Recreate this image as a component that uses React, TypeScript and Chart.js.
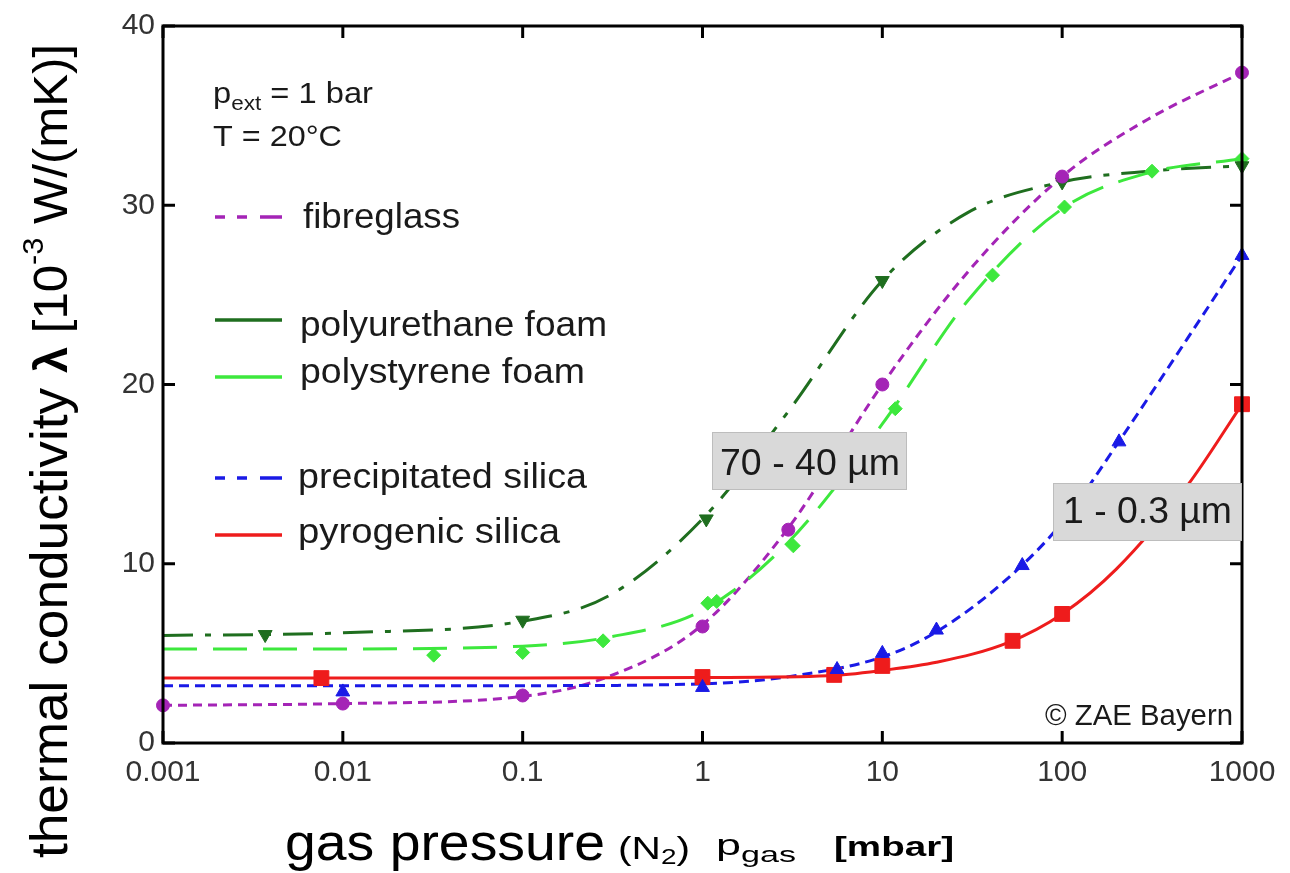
import React, { useEffect, useRef } from "react";
import { Chart, registerables } from "chart.js";

Chart.register(...registerables);

const FONT = "'Liberation Sans', Arial, sans-serif";

const X_TICKS = [0.001, 0.01, 0.1, 1, 10, 100, 1000];
const X_TICK_LABELS = ["0.001", "0.01", "0.1", "1", "10", "100", "1000"];
const Y_TICKS = [0, 10, 20, 30, 40];
const Y_TICK_LABELS = ["0", "10", "20", "30", "40"];

// fibreglass: measured points and fitted curve
const FIBRE_P = [0.001, 0.01, 0.1, 1, 3, 10, 100, 1000];
const FIBRE_L = [2.1, 2.2, 2.65, 6.5, 11.9, 20.0, 31.6, 37.4];
const FIBRE_CURVE_P = [0.001, 0.01, 0.1, 0.3, 1, 3, 10, 30, 100, 300, 1000];
const FIBRE_CURVE_L = [2.1, 2.2, 2.6, 3.7, 6.6, 12.0, 20.0, 26.3, 31.6, 34.8, 37.4];

// polyurethane foam
const PU_P = [0.0037, 0.1, 1.05, 10, 100, 1000];
const PU_L = [6.05, 6.85, 12.5, 25.8, 31.3, 32.2];
const PU_CURVE_P = [0.001, 0.01, 0.1, 0.3, 1, 3, 10, 30, 100, 300, 1000];
const PU_CURVE_L = [6.0, 6.15, 6.8, 8.2, 12.5, 18.5, 25.8, 29.6, 31.3, 31.9, 32.2];

// polystyrene foam
const PS_P = [0.032, 0.1, 0.28, 1.07, 1.2, 3.2, 11.8, 41, 103, 316, 1000];
const PS_L = [4.9, 5.05, 5.7, 7.8, 7.9, 11.0, 18.65, 26.1, 29.9, 31.9, 32.6];
const PS_CURVE_P = [0.001, 0.01, 0.1, 0.3, 1, 3, 10, 30, 100, 300, 1000];
const PS_CURVE_L = [5.25, 5.25, 5.4, 5.9, 7.4, 11.2, 17.8, 24.7, 29.8, 31.8, 32.6];

// precipitated silica
const PREC_P = [0.01, 1, 5.6, 10, 20, 60, 207, 1000];
const PREC_L = [2.85, 3.1, 4.1, 5.0, 6.3, 9.9, 16.8, 27.2];
const PREC_CURVE_P = [0.001, 0.01, 0.1, 1, 3, 10, 20, 50, 100, 200, 500, 1000];
const PREC_CURVE_L = [3.2, 3.2, 3.2, 3.3, 3.7, 4.8, 6.2, 9.2, 12.3, 16.6, 22.6, 27.2];

// pyrogenic silica
const PYRO_P = [0.0076, 1, 5.4, 10, 53, 100, 1000];
const PYRO_L = [3.62, 3.68, 3.8, 4.3, 5.7, 7.2, 18.9];
const PYRO_CURVE_P = [0.001, 0.1, 1, 5, 10, 20, 50, 100, 200, 500, 1000];
const PYRO_CURVE_L = [3.62, 3.62, 3.65, 3.75, 4.05, 4.5, 5.6, 7.2, 9.7, 14.4, 18.9];

const C_FIBRE = "#a424b6";
const C_PU = "#1f6e1f";
const C_PS = "#3de83d";
const C_PREC = "#1a1ae6";
const C_PYRO = "#ee1c1c";

const LEGEND = [
  { label: "fibreglass", color: C_FIBRE, dash: [10, 12, 10, 13, 22, 0], y: 217, tx: 303, tw: 157, ty: 228 },
  { label: "polyurethane foam", color: C_PU, dash: [], y: 320, tx: 300, tw: 307, ty: 336 },
  { label: "polystyrene foam", color: C_PS, dash: [], y: 377, tx: 300, tw: 285, ty: 383 },
  { label: "precipitated silica", color: C_PREC, dash: [10, 12, 10, 13, 22, 0], y: 478, tx: 298, tw: 289, ty: 488 },
  { label: "pyrogenic silica", color: C_PYRO, dash: [], y: 535, tx: 298, tw: 262, ty: 543 },
];

const pts = (xs: number[], ys: number[]) => xs.map((x, i) => ({ x, y: ys[i] }));

type Run = { text: string; font: string; dy?: number };

function drawRuns(ctx: CanvasRenderingContext2D, runs: Run[], x: number, y: number, width?: number) {
  let natural = 0;
  const ws = runs.map((r) => {
    ctx.font = r.font;
    const w = ctx.measureText(r.text).width;
    natural += w;
    return w;
  });
  const sx = width ? width / natural : 1;
  ctx.save();
  ctx.translate(x, y);
  ctx.scale(sx, 1);
  ctx.textAlign = "left";
  ctx.textBaseline = "alphabetic";
  let cx = 0;
  runs.forEach((r, i) => {
    ctx.font = r.font;
    ctx.fillText(r.text, cx, r.dy || 0);
    cx += ws[i];
  });
  ctx.restore();
}

const overlay = {
  id: "overlay",
  afterDatasetsDraw(chart: any) {
    const ctx: CanvasRenderingContext2D = chart.ctx;
    const a = chart.chartArea;
    const xs = chart.scales.x;
    const ys = chart.scales.y;
    ctx.save();
    ctx.setLineDash([]);
    ctx.strokeStyle = "#000";
    ctx.lineWidth = 3;
    const line = (x1: number, y1: number, x2: number, y2: number) => {
      ctx.beginPath();
      ctx.moveTo(x1, y1);
      ctx.lineTo(x2, y2);
      ctx.stroke();
    };
    ctx.strokeRect(a.left, a.top, a.right - a.left, a.bottom - a.top);
    X_TICKS.forEach((v) => {
      const px = xs.getPixelForValue(v);
      line(px, a.bottom, px, a.bottom - 12);
      line(px, a.top, px, a.top + 12);
    });
    Y_TICKS.forEach((v) => {
      const py = ys.getPixelForValue(v);
      line(a.left, py, a.left + 12, py);
      line(a.right, py, a.right - 12, py);
    });

    // conditions
    ctx.fillStyle = "#1a1a1a";
    drawRuns(ctx, [
      { text: "p", font: `29px ${FONT}` },
      { text: "ext", font: `20px ${FONT}`, dy: 7 },
      { text: " = 1 bar", font: `29px ${FONT}` },
    ], 213, 103, 160);
    drawRuns(ctx, [{ text: "T = 20°C", font: `29px ${FONT}` }], 213, 146, 129);

    // legend
    LEGEND.forEach((e) => {
      ctx.strokeStyle = e.color;
      ctx.lineWidth = 3.5;
      ctx.setLineDash(e.dash);
      line(215, e.y, 282, e.y);
      ctx.setLineDash([]);
      ctx.fillStyle = "#1a1a1a";
      drawRuns(ctx, [{ text: e.label, font: `35px ${FONT}` }], e.tx, e.ty, e.tw);
    });

    // annotation boxes
    const box = (x: number, y: number, w: number, h: number, text: string, tx: number, ty: number, tw: number) => {
      ctx.fillStyle = "#d9d9d9";
      ctx.fillRect(x, y, w, h);
      ctx.strokeStyle = "#bdbdbd";
      ctx.lineWidth = 1;
      ctx.strokeRect(x + 0.5, y + 0.5, w - 1, h - 1);
      ctx.fillStyle = "#1a1a1a";
      drawRuns(ctx, [{ text, font: `37px ${FONT}` }], tx, ty, tw);
    };
    box(712, 432, 195, 58, "70 - 40 µm", 720, 475, 180);
    box(1053, 483, 189, 58, "1 - 0.3 µm", 1063, 523, 169);

    // copyright
    ctx.fillStyle = "#1a1a1a";
    drawRuns(ctx, [{ text: "© ZAE Bayern", font: `29px ${FONT}` }], 1045, 725, 188);

    // x axis title
    ctx.fillStyle = "#000";
    drawRuns(ctx, [{ text: "gas pressure", font: `52px ${FONT}` }], 285, 860, 320);
    drawRuns(ctx, [
      { text: "(N", font: `32px ${FONT}` },
      { text: "2", font: `22px ${FONT}`, dy: 5 },
      { text: ")", font: `32px ${FONT}` },
    ], 618, 859, 72);
    drawRuns(ctx, [
      { text: "p", font: `29px ${FONT}` },
      { text: "gas", font: `22px ${FONT}`, dy: 7 },
    ], 716, 855, 80);
    drawRuns(ctx, [{ text: "[mbar]", font: `bold 28px ${FONT}` }], 834, 856, 120);

    // y axis title (rotated)
    ctx.save();
    ctx.translate(67, 858);
    ctx.rotate(-Math.PI / 2);
    drawRuns(ctx, [
      { text: "thermal conductivity ", font: `52px ${FONT}` },
      { text: "λ", font: `bold 46px ${FONT}` },
      { text: " [10", font: `48px ${FONT}` },
      { text: "-3", font: `30px ${FONT}`, dy: -24 },
      { text: " W/(mK)]", font: `48px ${FONT}` },
    ], 0, 0, 814);
    ctx.restore();

    ctx.restore();
  },
};

export default function App() {
  const ref = useRef<HTMLCanvasElement | null>(null);

  useEffect(() => {
    if (!ref.current) return;
    const curve = (xs: number[], ys: number[], color: string, dash: number[], width = 3) => ({
      data: pts(xs, ys),
      showLine: true,
      borderColor: color,
      backgroundColor: color,
      borderWidth: width,
      borderDash: dash,
      pointRadius: 0,
      cubicInterpolationMode: "monotone" as const,
      order: 1,
    });
    const marks = (xs: number[], ys: number[], color: string, style: string, r: number, rot = 0) => ({
      data: pts(xs, ys),
      showLine: false,
      borderColor: color,
      backgroundColor: color,
      pointStyle: style,
      pointRadius: r,
      pointRotation: rot,
      pointBorderWidth: 1,
      clip: false,
      order: 0,
    });

    const chart = new Chart(ref.current, {
      type: "scatter",
      data: {
        datasets: [
          marks(FIBRE_P, FIBRE_L, C_FIBRE, "circle", 6.5),
          marks(PU_P, PU_L, C_PU, "triangle", 8, 180),
          marks(PS_P, PS_L, C_PS, "rectRot", 7),
          marks(PREC_P, PREC_L, C_PREC, "triangle", 8),
          marks(PYRO_P, PYRO_L, C_PYRO, "rect", 10.5),
          curve(PYRO_CURVE_P, PYRO_CURVE_L, C_PYRO, []),
          curve(PREC_CURVE_P, PREC_CURVE_L, C_PREC, [10, 6]),
          curve(PS_CURVE_P, PS_CURVE_L, C_PS, [34, 16]),
          curve(PU_CURVE_P, PU_CURVE_L, C_PU, [30, 12, 6, 12]),
          curve(FIBRE_CURVE_P, FIBRE_CURVE_L, C_FIBRE, [9, 6]),
        ] as any,
      },
      options: {
        animation: false,
        responsive: false,
        devicePixelRatio: 1,
        layout: { padding: { top: 22, right: 48, left: 0, bottom: 0 } },
        plugins: {
          legend: { display: false },
          tooltip: { enabled: false },
          title: { display: false },
        },
        scales: {
          x: {
            type: "logarithmic",
            min: 0.001,
            max: 1000,
            grid: { display: false, drawTicks: false },
            border: { display: false },
            afterBuildTicks: (s: any) => {
              s.ticks = X_TICKS.map((v) => ({ value: v }));
            },
            afterFit: (s: any) => {
              s.height = 130;
            },
            ticks: {
              autoSkip: false,
              maxRotation: 0,
              padding: 12,
              color: "#333",
              font: { family: FONT, size: 30 },
              callback: (_v: any, i: number) => X_TICK_LABELS[i],
            },
          },
          y: {
            type: "linear",
            min: 0,
            max: 40,
            grid: { display: false, drawTicks: false },
            border: { display: false },
            afterBuildTicks: (s: any) => {
              s.ticks = Y_TICKS.map((v) => ({ value: v }));
            },
            afterFit: (s: any) => {
              s.width = 163;
            },
            ticks: {
              padding: 8,
              color: "#333",
              font: { family: FONT, size: 30 },
              callback: (_v: any, i: number) => Y_TICK_LABELS[i],
            },
          },
        },
      } as any,
      plugins: [overlay],
    });
    return () => chart.destroy();
  }, []);

  return (
    <div style={{ position: "fixed", left: 0, top: 0, width: 1290, height: 873, background: "#fff" }}>
      <canvas ref={ref} width={1290} height={873} style={{ width: 1290, height: 873, display: "block" }} />
    </div>
  );
}
